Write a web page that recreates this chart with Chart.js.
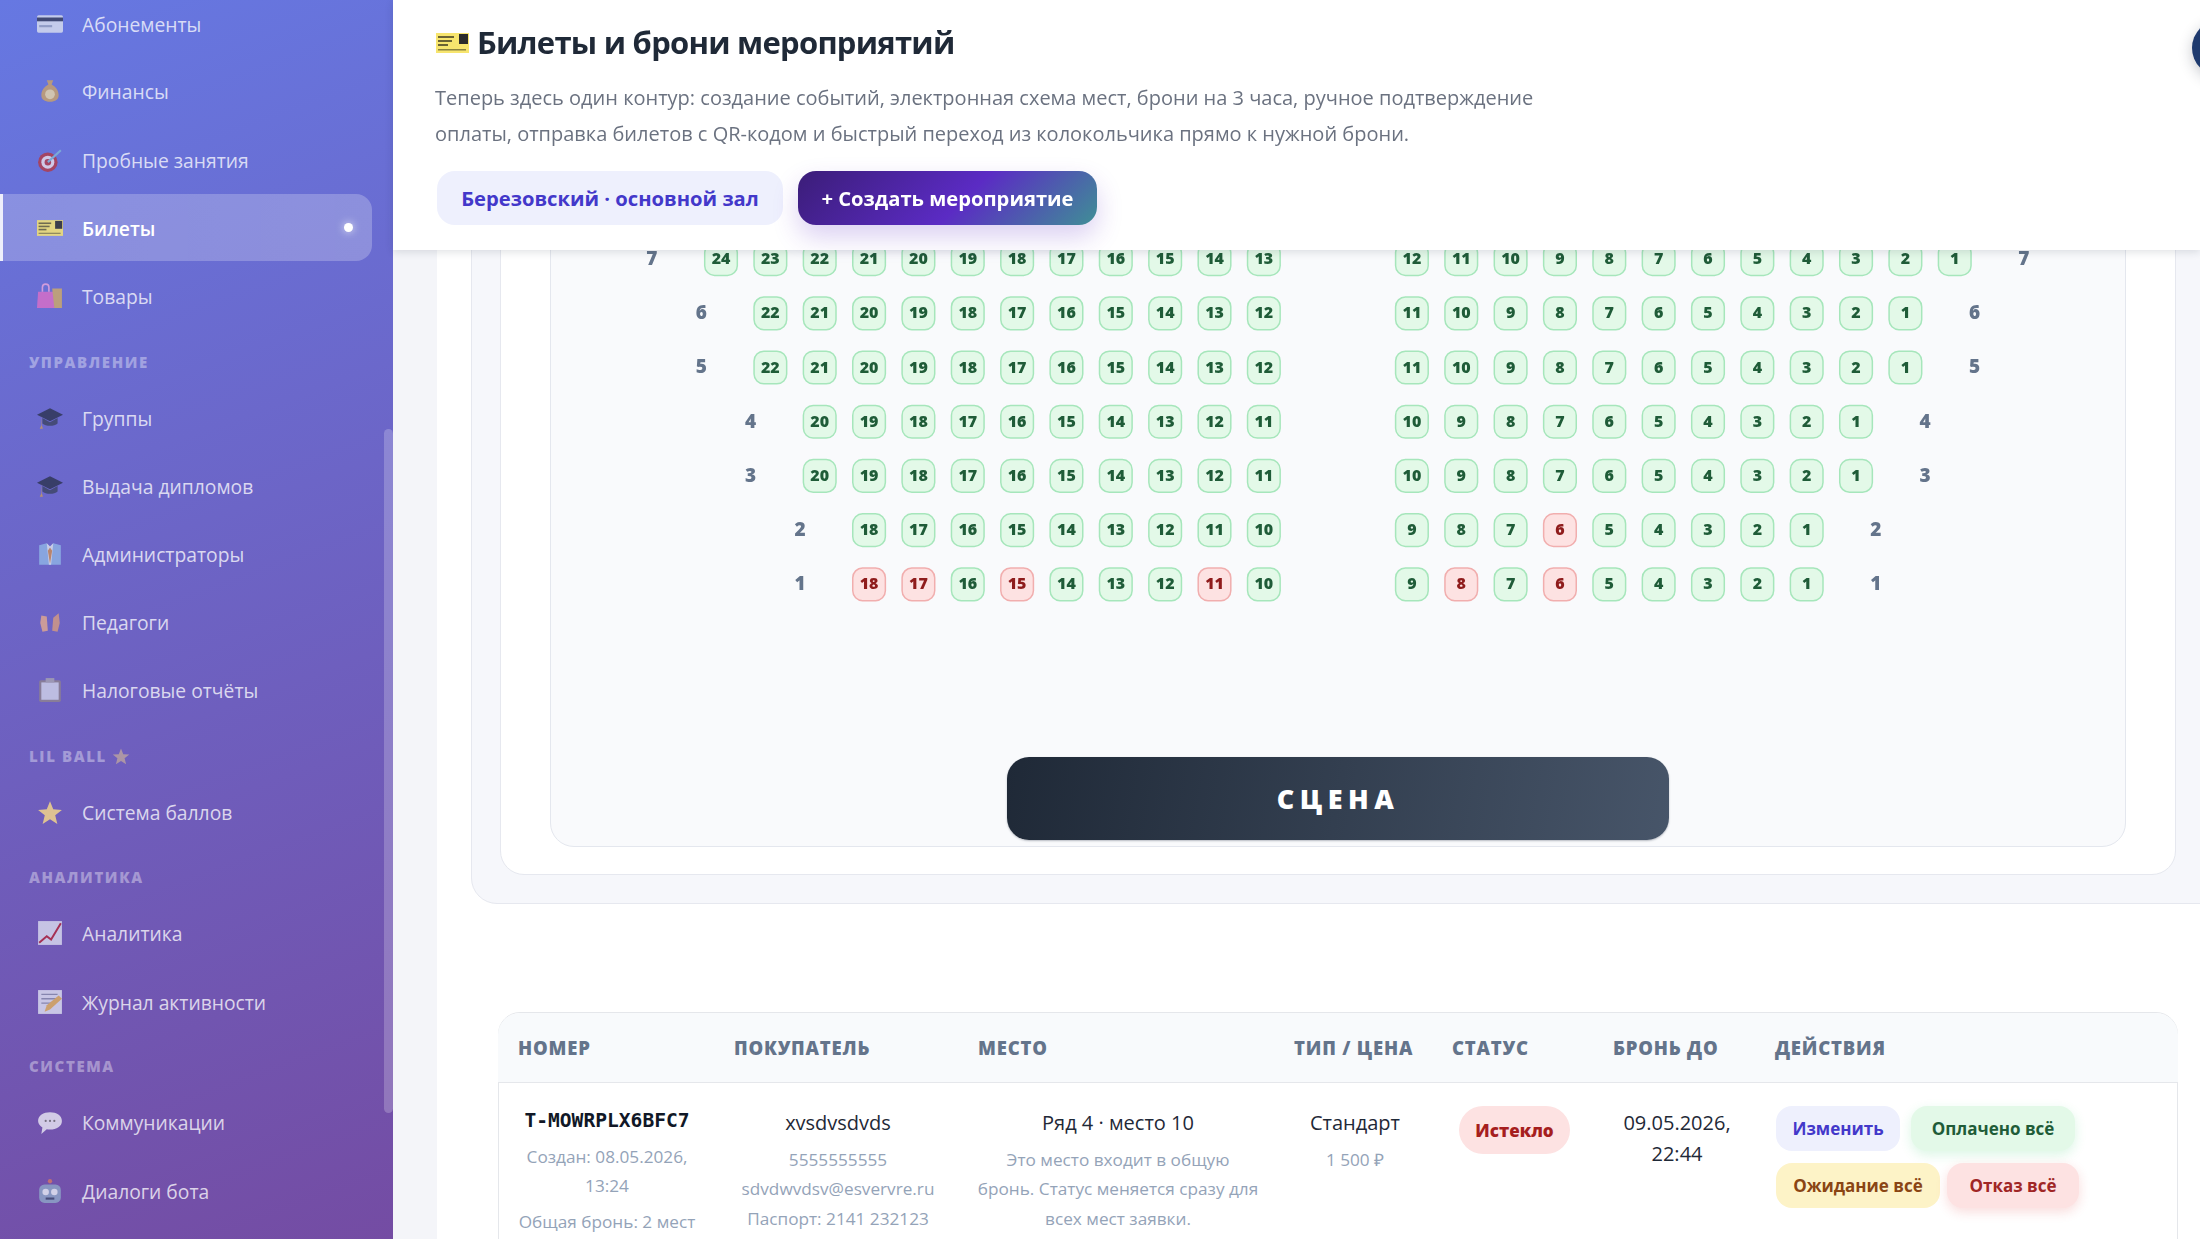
<!DOCTYPE html>
<html lang="ru">
<head>
<meta charset="utf-8">
<title>Билеты и брони мероприятий</title>
<script src="https://cdn.jsdelivr.net/npm/chart.js@4/dist/chart.umd.min.js"></script>
<style>
  * { box-sizing: border-box; }
  html, body { margin: 0; width: 2200px; height: 1239px; overflow: hidden; background: #fff; font-family: "Open Sans", sans-serif; }
  .abs, .nav, .sec, .t { position: absolute; }
  .t { white-space: nowrap; transform: translateY(-50%); }
  .c { transform: translate(-50%, -50%); text-align: center; }

  #sidebar { position: absolute; left: 0; top: 0; width: 393px; height: 1239px; overflow: hidden; background: linear-gradient(160deg, #6678e2 0%, #744ca3 100%); }
  #scroll { position: absolute; left: 384px; top: 429px; width: 9px; height: 684px; border-radius: 5px; background: rgba(255,255,255,.22); }
  #active { position: absolute; left: 0; top: 194px; width: 372px; height: 67px; border-radius: 0 16px 16px 0; border-left: 3px solid rgba(255,255,255,.85); background: linear-gradient(90deg, rgba(255,255,255,.22), rgba(255,255,255,.24)); }
  #dot { position: absolute; left: 344px; top: 223px; width: 9px; height: 9px; border-radius: 50%; background: #fff; box-shadow: 0 0 8px rgba(255,255,255,.8); }
  .nav { left: 82px; font-size: 19.3px; color: rgba(255,255,255,.76); white-space: nowrap; transform: translateY(-50%); }
  .nav.on { color: #fff; font-weight: 600; }
  .sec { left: 29px; font-size: 15px; font-weight: 800; letter-spacing: 1.6px; color: rgba(255,255,255,.38); white-space: nowrap; transform: translateY(-50%); }
  .ic { position: absolute; left: 37px; width: 26px; height: 26px; transform: translateY(-50%); opacity: .82; }

  #strip { position: absolute; left: 393px; top: 0; width: 44px; height: 1239px; background: #f4f5f9; }
  #panel { position: absolute; left: 471px; top: 100px; width: 1780px; height: 804px; background: #f6f7fb; border: 1px solid #e6e8ef; border-radius: 26px; }
  #card { position: absolute; left: 500px; top: 100px; width: 1676px; height: 775px; background: #fff; border: 1px solid #e6e8ef; border-radius: 24px; }
  #hall { position: absolute; left: 550px; top: 100px; width: 1576px; height: 747px; background: #f9fafc; border: 1px solid #e4e7ee; border-radius: 24px; }
  #stage { position: absolute; left: 1007px; top: 757px; width: 662px; height: 83px; border-radius: 22px; background: linear-gradient(100deg, #1f2937, #475569); color: #fff; font-size: 27px; font-weight: 800; letter-spacing: 5.5px; display: flex; align-items: center; justify-content: center; box-shadow: 0 1px 2px rgba(30,41,59,.3); }
  #seats { position: absolute; left: 551px; top: 204px; }

  #header { position: absolute; left: 393px; top: 0; width: 1807px; height: 250px; background: #fff; box-shadow: 0 2px 8px rgba(30,41,59,.14); z-index: 5; }
  #title { left: 477px; top: 42px; font-size: 31px; font-weight: 700; letter-spacing: -.75px; color: #1f2937; }
  .sub { left: 435px; font-size: 20px; color: #6b7280; }
  .btn { position: absolute; display: flex; align-items: center; justify-content: center; white-space: nowrap; font-weight: 700; }
  #hall-btn { left: 437px; top: 171px; width: 346px; height: 54px; border-radius: 18px; background: #eef0fd; color: #4338ca; font-size: 20.2px; }
  #add-btn { left: 798px; top: 171px; width: 299px; height: 54px; border-radius: 18px; background: linear-gradient(135deg, #3b1d78 0%, #5b2bc4 55%, #3f8f96 100%); color: #fff; font-size: 20.2px; box-shadow: 0 12px 26px rgba(91,43,196,.22); }
  #avatar { position: absolute; left: 2192px; top: 20px; width: 56px; height: 56px; border-radius: 50%; background: #1e3a6e; box-shadow: 0 4px 14px rgba(30,41,59,.25); }

  #table { position: absolute; left: 498px; top: 1012px; width: 1680px; height: 260px; border: 1px solid #e5e7eb; border-radius: 22px; background: #fff; }
  #thead { position: absolute; left: 498px; top: 1013px; width: 1680px; height: 70px; border-bottom: 1px solid #e5e7eb; border-radius: 22px 22px 0 0; background: #f8fafc; }
  .th { top: 1047px; font-size: 18.5px; font-weight: 800; letter-spacing: .8px; color: #64748b; }
  .main { font-size: 20px; color: #1f2937; }
  .soft { font-size: 17.2px; color: #94a3b8; }
  .code { font-family: "DejaVu Sans Mono", monospace; font-weight: 700; font-size: 19.6px; color: #111827; }
  .pill { font-size: 17px; }
</style>
</head>
<body>
<svg width="0" height="0" style="position:absolute">
  <symbol id="i-card" viewBox="0 0 24 24"><rect x="0" y="4" width="24" height="16" rx="1.5" fill="#d9deee"/><rect x="0" y="6" width="24" height="3.5" fill="#39405c"/><rect x="2" y="13" width="12" height="2" fill="#9aa3c0"/></symbol>
  <symbol id="i-bag" viewBox="0 0 24 24"><path d="M9 2h6l-1.5 4c4 2 6.500 6 6.500 10 0 4-3 6-8 6s-8-2-8-6c0-4 2.500-8 6.500-10z" fill="#c9a26a"/><circle cx="12" cy="15" r="4.500" fill="#e7d6a8"/></symbol>
  <symbol id="i-target" viewBox="0 0 24 24"><circle cx="10" cy="14" r="9" fill="#b23a4a"/><circle cx="10" cy="14" r="6" fill="#e6dcea"/><circle cx="10" cy="14" r="3" fill="#b23a4a"/><path d="M10 14L22 3" stroke="#7fb6d8" stroke-width="2"/></symbol>
  <symbol id="i-ticket" viewBox="0 0 33 20"><rect width="33" height="20" fill="#f7e56e"/><rect x="2" y="3" width="16" height="2" fill="#6b6333"/><rect x="2" y="7" width="14" height="2" fill="#6b6333"/><rect x="2" y="11" width="10" height="2" fill="#6b6333"/><rect x="23" y="1" width="9" height="10" fill="#2b2b2b"/><rect x="2" y="16" width="28" height="1.500" fill="#8a8240"/></symbol>
  <symbol id="i-shop" viewBox="0 0 24 24"><path d="M1 8h15l1 15H0z" fill="#d86fc8"/><path d="M14 5h9v18h-7z" fill="#cdaa6a"/><path d="M5 8V4a3 3 0 0 1 6 0v4" fill="none" stroke="#e9a6de" stroke-width="1.500"/></symbol>
  <symbol id="i-cap" viewBox="0 0 24 24"><path d="M12 3L24 9l-12 6L0 9z" fill="#2e3553"/><path d="M5 12v5c3 3 11 3 14 0v-5l-7 4z" fill="#3d4566"/><path d="M4 10v9l-1.500 3h3L4.500 19z" fill="#c69a62"/></symbol>
  <symbol id="i-admin" viewBox="0 0 24 24"><path d="M2 4l7-2 3 3 3-3 7 2v18H2z" fill="#8fb4e6"/><path d="M9 2l3 3 3-3-2 20h-2z" fill="#dde3ef"/><path d="M12 6l2 3-2 12-2-12z" fill="#c98c5c"/></symbol>
  <symbol id="i-hands" viewBox="0 0 24 24"><path d="M4 6l5 1 1 13-5 1-2-8z" fill="#e0a890"/><path d="M20 4l1 9-2 8-5-1 1-12z" fill="#d49a82"/></symbol>
  <symbol id="i-clip" viewBox="0 0 24 24"><rect x="2" y="3" width="20" height="20" rx="1.500" fill="#8f8490"/><rect x="4" y="5" width="16" height="16" fill="#cfd2ea"/><rect x="8" y="1" width="8" height="4" fill="#a7a3b2"/></symbol>
  <symbol id="i-star" viewBox="0 0 24 24"><path d="M12 2l3 7.500 8 .6-6.200 5 2 7.900L12 18.700 5.200 23l2-7.900L1 10.100l8-.6z" fill="#f7d98a"/></symbol>
  <symbol id="i-line" viewBox="0 0 24 24"><rect x="1" y="1" width="22" height="22" fill="#d9dbef"/><path d="M2 21l7-6 4 3 9-15" fill="none" stroke="#b2283f" stroke-width="1.800"/></symbol>
  <symbol id="i-memo" viewBox="0 0 24 24"><rect x="1" y="1" width="22" height="22" fill="#dcdff0"/><path d="M4 5h15M4 9h15M4 13h9" stroke="#8a90ad" stroke-width="1.200"/><path d="M7 21l2-6L20 6l3 3-11 10z" fill="#e0b060"/></symbol>
  <symbol id="i-talk" viewBox="0 0 24 24"><path d="M12 3c6 0 11 3 11 8s-5 8-11 8c-1 0-2 0-3-.200L4 23l1-6c-2-1.500-4-3.500-4-6 0-5 5-8 11-8z" fill="#e8e6f3"/><circle cx="8" cy="11" r="1" fill="#777"/><circle cx="12" cy="11" r="1" fill="#777"/><circle cx="16" cy="11" r="1" fill="#777"/></symbol>
  <symbol id="i-bot" viewBox="0 0 24 24"><rect x="2" y="6" width="20" height="17" rx="5" fill="#8ea6c8"/><circle cx="12" cy="3" r="2" fill="#d0776a"/><circle cx="8" cy="13" r="3" fill="#e8eef6"/><circle cx="16" cy="13" r="3" fill="#e8eef6"/><rect x="8" y="18" width="8" height="2" fill="#3f4c70"/></symbol>
</svg>

<div id="sidebar">
  <div id="active"></div><div id="dot"></div><div id="scroll"></div>
  <svg class="ic" style="top:24px"><use href="#i-card"/></svg><div class="nav" style="top:24px">Абонементы</div>
  <svg class="ic" style="top:91px"><use href="#i-bag"/></svg><div class="nav" style="top:91px">Финансы</div>
  <svg class="ic" style="top:160px"><use href="#i-target"/></svg><div class="nav" style="top:160px">Пробные занятия</div>
  <svg class="ic" style="top:228px"><use href="#i-ticket"/></svg><div class="nav on" style="top:228px">Билеты</div>
  <svg class="ic" style="top:296px"><use href="#i-shop"/></svg><div class="nav" style="top:296px">Товары</div>
  <div class="sec" style="top:362px">УПРАВЛЕНИЕ</div>
  <svg class="ic" style="top:418px"><use href="#i-cap"/></svg><div class="nav" style="top:418px">Группы</div>
  <svg class="ic" style="top:486px"><use href="#i-cap"/></svg><div class="nav" style="top:486px">Выдача дипломов</div>
  <svg class="ic" style="top:554px"><use href="#i-admin"/></svg><div class="nav" style="top:554px">Администраторы</div>
  <svg class="ic" style="top:622px"><use href="#i-hands"/></svg><div class="nav" style="top:622px">Педагоги</div>
  <svg class="ic" style="top:690px"><use href="#i-clip"/></svg><div class="nav" style="top:690px">Налоговые отчёты</div>
  <div class="sec" style="top:756px">LIL BALL <svg width="18" height="18" style="vertical-align:-3px;opacity:.45"><use href="#i-star"/></svg></div>
  <svg class="ic" style="top:812px"><use href="#i-star"/></svg><div class="nav" style="top:812px">Система баллов</div>
  <div class="sec" style="top:877px">АНАЛИТИКА</div>
  <svg class="ic" style="top:933px"><use href="#i-line"/></svg><div class="nav" style="top:933px">Аналитика</div>
  <svg class="ic" style="top:1002px"><use href="#i-memo"/></svg><div class="nav" style="top:1002px">Журнал активности</div>
  <div class="sec" style="top:1066px">СИСТЕМА</div>
  <svg class="ic" style="top:1122px"><use href="#i-talk"/></svg><div class="nav" style="top:1122px">Коммуникации</div>
  <svg class="ic" style="top:1191px"><use href="#i-bot"/></svg><div class="nav" style="top:1191px">Диалоги бота</div>
</div>

<div id="strip"></div>
<div id="panel"></div>
<div id="card"></div>
<div id="hall"></div>
<div id="stage">СЦЕНА</div>
<canvas id="seats" width="1574" height="436"></canvas>

<div id="header"></div>
<div class="abs" style="z-index:6;left:0;top:0">
  <svg class="abs" style="left:436px;top:33px" width="33" height="20"><use href="#i-ticket"/></svg>
  <div class="t" id="title">Билеты и брони мероприятий</div>
  <div class="t sub" style="top:97px">Теперь здесь один контур: создание событий, электронная схема мест, брони на 3 часа, ручное подтверждение</div>
  <div class="t sub" style="top:133px">оплаты, отправка билетов с QR-кодом и быстрый переход из колокольчика прямо к нужной брони.</div>
  <div class="btn" id="hall-btn">Березовский · основной зал</div>
  <div class="btn" id="add-btn">+ Создать мероприятие</div>
  <div id="avatar"></div>
</div>

<div id="table"></div>
<div id="thead"></div>
<div class="t th" style="left:518px">НОМЕР</div>
<div class="t th" style="left:734px">ПОКУПАТЕЛЬ</div>
<div class="t th" style="left:978px">МЕСТО</div>
<div class="t th" style="left:1294px">ТИП / ЦЕНА</div>
<div class="t th" style="left:1452px">СТАТУС</div>
<div class="t th" style="left:1613px">БРОНЬ ДО</div>
<div class="t th" style="left:1775px">ДЕЙСТВИЯ</div>

<div class="t c code" style="left:607px;top:1120px">T-MOWRPLX6BFC7</div>
<div class="t c soft" style="left:607px;top:1156px">Создан: 08.05.2026,</div>
<div class="t c soft" style="left:607px;top:1185px">13:24</div>
<div class="t c soft" style="left:607px;top:1221px">Общая бронь: 2 мест</div>

<div class="t c main" style="left:838px;top:1122px">xvsdvsdvds</div>
<div class="t c soft" style="left:838px;top:1159px">5555555555</div>
<div class="t c soft" style="left:838px;top:1188px">sdvdwvdsv@esvervre.ru</div>
<div class="t c soft" style="left:838px;top:1218px">Паспорт: 2141 232123</div>

<div class="t c main" style="left:1118px;top:1122px">Ряд 4 · место 10</div>
<div class="t c soft" style="left:1118px;top:1159px">Это место входит в общую</div>
<div class="t c soft" style="left:1118px;top:1188px">бронь. Статус меняется сразу для</div>
<div class="t c soft" style="left:1118px;top:1218px">всех мест заявки.</div>

<div class="t c main" style="left:1355px;top:1122px">Стандарт</div>
<div class="t c soft" style="left:1355px;top:1159px">1 500 ₽</div>

<div class="btn pill" style="left:1459px;top:1106px;width:111px;height:48px;border-radius:24px;background:#fde2e2;color:#a61e1e;font-weight:800">Истекло</div>

<div class="t c main" style="left:1677px;top:1122px">09.05.2026,</div>
<div class="t c main" style="left:1677px;top:1153px">22:44</div>

<div class="btn pill" style="left:1776px;top:1106px;width:124px;height:45px;border-radius:16px;background:#eef0fd;color:#4338ca">Изменить</div>
<div class="btn pill" style="left:1911px;top:1106px;width:164px;height:45px;border-radius:16px;background:#e3f9e8;color:#1f5c38;box-shadow:0 4px 12px rgba(34,197,94,.16)">Оплачено всё</div>
<div class="btn pill" style="left:1776px;top:1163px;width:164px;height:45px;border-radius:16px;background:#fdf3c7;color:#8a4514">Ожидание всё</div>
<div class="btn pill" style="left:1947px;top:1163px;width:132px;height:45px;border-radius:16px;background:#fde2e2;color:#a02626;box-shadow:0 4px 12px rgba(220,38,38,.16)">Отказ всё</div>

<script>
// seat numbers by row
const rowNames = [1, 2, 3, 4, 5, 6, 7];

const row1Left = [18, 17, 16, 15, 14, 13, 12, 11, 10];
const row2Left = [18, 17, 16, 15, 14, 13, 12, 11, 10];
const row3Left = [20, 19, 18, 17, 16, 15, 14, 13, 12, 11];
const row4Left = [20, 19, 18, 17, 16, 15, 14, 13, 12, 11];
const row5Left = [22, 21, 20, 19, 18, 17, 16, 15, 14, 13, 12];
const row6Left = [22, 21, 20, 19, 18, 17, 16, 15, 14, 13, 12];
const row7Left = [24, 23, 22, 21, 20, 19, 18, 17, 16, 15, 14, 13];

const row1Right = [9, 8, 7, 6, 5, 4, 3, 2, 1];
const row2Right = [9, 8, 7, 6, 5, 4, 3, 2, 1];
const row3Right = [10, 9, 8, 7, 6, 5, 4, 3, 2, 1];
const row4Right = [10, 9, 8, 7, 6, 5, 4, 3, 2, 1];
const row5Right = [11, 10, 9, 8, 7, 6, 5, 4, 3, 2, 1];
const row6Right = [11, 10, 9, 8, 7, 6, 5, 4, 3, 2, 1];
const row7Right = [12, 11, 10, 9, 8, 7, 6, 5, 4, 3, 2, 1];

const row1Taken = [18, 17, 15, 11, 8, 6];
const row2Taken = [6];

const leftRows = [row1Left, row2Left, row3Left, row4Left, row5Left, row6Left, row7Left];
const rightRows = [row1Right, row2Right, row3Right, row4Right, row5Right, row6Right, row7Right];
const takenRows = [row1Taken, row2Taken, [], [], [], [], []];

const leftEndCol = 11;
const rightStartCol = 14;
const labelGap = 1.4;

const free = [];
const taken = [];
const rowLabels = [];

rowNames.forEach((row, r) => {
  const left = leftRows[r];
  const right = rightRows[r];
  const firstCol = leftEndCol - left.length + 1;
  const add = (seat, col) => {
    (takenRows[r].includes(seat) ? taken : free).push({ x: col, y: row, seat });
  };
  left.forEach((seat, i) => add(seat, firstCol + i));
  right.forEach((seat, i) => add(seat, rightStartCol + i));
  rowLabels.push({ x: firstCol - labelGap, y: row, seat: row });
  rowLabels.push({ x: rightStartCol + right.length - 1 + labelGap, y: row, seat: row });
});

const seatLabels = {
  id: 'seatLabels',
  afterDatasetsDraw(chart) {
    const { ctx } = chart;
    ctx.save();
    ctx.textAlign = 'center';
    ctx.textBaseline = 'middle';
    chart.data.datasets.forEach((ds, i) => {
      ctx.font = ds.labelFont;
      ctx.fillStyle = ds.labelColor;
      chart.getDatasetMeta(i).data.forEach((el, j) => {
        ctx.fillText(ds.data[j].seat, el.x, el.y + 0.5);
      });
    });
    ctx.restore();
  },
};

// eslint-disable-next-line no-unused-vars
const chart = new Chart(document.getElementById('seats').getContext('2d'), {
  type: 'scatter',
  data: {
    datasets: [
      {
        label: 'Свободно',
        data: free,
        pointStyle: 'rectRounded',
        pointRadius: 19,
        pointBackgroundColor: '#e3f9e8',
        pointBorderColor: '#a6e6bb',
        pointBorderWidth: 1.5,
        labelFont: '800 16px "Open Sans"',
        labelColor: '#1f5c38',
      },
      {
        label: 'Занято',
        data: taken,
        pointStyle: 'rectRounded',
        pointRadius: 19,
        pointBackgroundColor: '#fde2e2',
        pointBorderColor: '#f1aeae',
        pointBorderWidth: 1.5,
        labelFont: '800 16px "Open Sans"',
        labelColor: '#8f1c1c',
      },
      {
        label: 'Ряд',
        data: rowLabels,
        pointRadius: 0,
        labelFont: '800 19px "Open Sans"',
        labelColor: '#64748b',
      },
    ],
  },
  options: {
    responsive: false,
    animation: false,
    events: [],
    layout: { padding: 0, autoPadding: false },
    plugins: { legend: { display: false }, tooltip: { enabled: false } },
    scales: {
      x: { type: 'linear', display: false, min: -3.445, max: 28.45 },
      y: { type: 'linear', display: false, min: -0.027, max: 8.017 },
    },
  },
  plugins: [seatLabels],
});
</script>
</body>
</html>
